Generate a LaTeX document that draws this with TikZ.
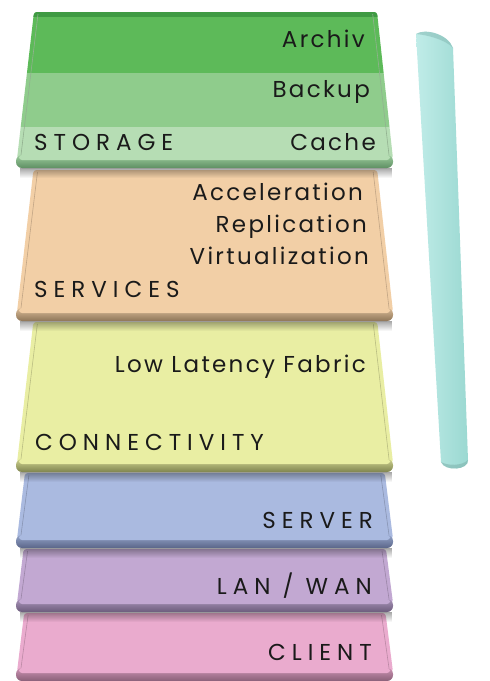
\documentclass[tikz,border=0pt]{standalone}
\usepackage{fontspec}
\newfontfamily\capsfont{Poppins}[LetterSpace=26]
\newfontfamily\lowfont{Poppins}[LetterSpace=10]
\usetikzlibrary{fadings}

% layer colours
\definecolor{txt}{HTML}{1A1A1A}
\definecolor{archiv}{HTML}{5DBA59}
\definecolor{archivrim}{HTML}{3F9A43}
\definecolor{backup}{HTML}{8FCC8C}
\definecolor{cache}{HTML}{B6DDB4}
\definecolor{stlipA}{HTML}{9CCB9C}
\definecolor{stlipB}{HTML}{5E8F63}
\definecolor{svface}{HTML}{F2CFA6}
\definecolor{svlipA}{HTML}{D9BA96}
\definecolor{svlipB}{HTML}{8E7658}
\definecolor{cnface}{HTML}{E9EEA3}
\definecolor{cnlipA}{HTML}{CDD18D}
\definecolor{cnlipB}{HTML}{7F8450}
\definecolor{srface}{HTML}{AABAE0}
\definecolor{srlipA}{HTML}{93A3C8}
\definecolor{srlipB}{HTML}{5A6588}
\definecolor{lnface}{HTML}{C2A8D2}
\definecolor{lnlipA}{HTML}{A892B8}
\definecolor{lnlipB}{HTML}{6C5D7C}
\definecolor{clface}{HTML}{EAABCE}
\definecolor{cllipA}{HTML}{CB92B2}
\definecolor{cllipB}{HTML}{8A6078}
\definecolor{barA}{HTML}{C0ECE8}
\definecolor{barB}{HTML}{9AD8D1}

% one tray: #1 top, #2 bottom of rim, #3 face, #4 rim light, #5 rim dark
\newcommand\trayface[3]{%
  \pgfmathsetmacro\rimtop{#2-13}%
  \fill[#3, rounded corners=3pt]
    ({18+0.112*(\rimtop-#1)},#1) -- (17,\rimtop+4) -- (393,\rimtop+4)
    -- ({391-0.10*(\rimtop-#1)},#1) -- cycle;
}
\newcommand\trayrim[5]{%
  \pgfmathsetmacro\rimtop{#2-13}%
  \draw[#3!80!black, line width=0.6pt]
    ({22+0.112*(\rimtop-#1)},#1+2) -- (21,\rimtop);
  \draw[#3!80!black, line width=0.6pt]
    ({387-0.10*(\rimtop-#1)},#1+2) -- (389,\rimtop);
  \shade[top color=#4, bottom color=#5, rounded corners=6pt]
    (16,\rimtop) rectangle (393,#2);
  \fill[#3, rounded corners=3pt] (19,\rimtop) rectangle (390,\rimtop+5);
  \fill[black, fill opacity=0.35, path fading=south] (20,#2) rectangle (392,#2+10);
}

\begin{document}
\begin{tikzpicture}[x=1pt, y=-1pt,
  capl/.style={font=\capsfont\fontsize{23}{23}\selectfont, text=txt, inner sep=0pt},
  lowl/.style={font=\lowfont\fontsize{23}{23}\selectfont, text=txt, inner sep=0pt}]
\useasboundingbox[fill=white] (0,0) rectangle (490,681);

% CLIENT
\trayface{613}{681}{clface}
\trayrim{613}{681}{clface}{cllipA}{cllipB}
% LAN / WAN
\trayface{549}{612}{lnface}
\trayrim{549}{612}{lnface}{lnlipA}{lnlipB}
% SERVER
\trayface{473}{548}{srface}
\trayrim{473}{548}{srface}{srlipA}{srlipB}
% CONNECTIVITY
\trayface{322}{472}{cnface}
\trayrim{322}{472}{cnface}{cnlipA}{cnlipB}
% SERVICES
\trayface{170}{321}{svface}
\trayrim{170}{321}{svface}{svlipA}{svlipB}
% STORAGE, split into three bands
\begin{scope}
  \clip[rounded corners=3pt] (34,12) -- (17,159) -- (393,159) -- (377,12) -- cycle;
  \fill[archiv] (0,12) rectangle (490,73);
  \fill[backup] (0,73) rectangle (490,127);
  \fill[cache] (0,127) rectangle (490,160);
  \fill[archivrim] (0,12) rectangle (490,17);
\end{scope}
\trayrim{12}{168}{cache}{stlipA}{stlipB}

% side bar
\shade[left color=barA, right color=barB]
  (416,34) .. controls (425,28) and (448,34) .. (453,48)
  -- (468,460) .. controls (469,470) and (445,472) .. (441,462) -- cycle;
\fill[barB!85!black, opacity=0.5]
  (416,34) .. controls (425,28) and (448,34) .. (453,48)
  .. controls (446,40) and (428,35) .. (416,34) -- cycle;
\fill[barB!80!black, opacity=0.5]
  (441,462) .. controls (445,472) and (469,470) .. (468,460)
  .. controls (462,466) and (448,466) .. (441,462) -- cycle;

% labels
\node[lowl, anchor=base east] (archivl) at (365,47) {Archiv};
\node[lowl, anchor=base east] (backupl) at (370,97) {Backup};
\node[lowl, anchor=base east] (cachel) at (376,150) {Cache};
\node[capl, anchor=base west] (storagel) at (34,150) {STORAGE};
\node[lowl, anchor=base east] (accl) at (363,200) {Acceleration};
\node[lowl, anchor=base east] (repl) at (367,232) {Replication};
\node[lowl, anchor=base east] (virtl) at (369,264) {Virtualization};
\node[capl, anchor=base west] (servicesl) at (34,297) {SERVICES};
\node[lowl, anchor=base east] (fabricl) at (366,372) {Low Latency Fabric};
\node[capl, anchor=base west] (connl) at (35,450) {CONNECTIVITY};
\node[capl, anchor=base east] (serverl) at (373,528) {SERVER};
\node[capl, anchor=base east] (lanl) at (372,594) {LAN / WAN};
\node[capl, anchor=base east] (clientl) at (372,660) {CLIENT};
\end{tikzpicture}
\end{document}
